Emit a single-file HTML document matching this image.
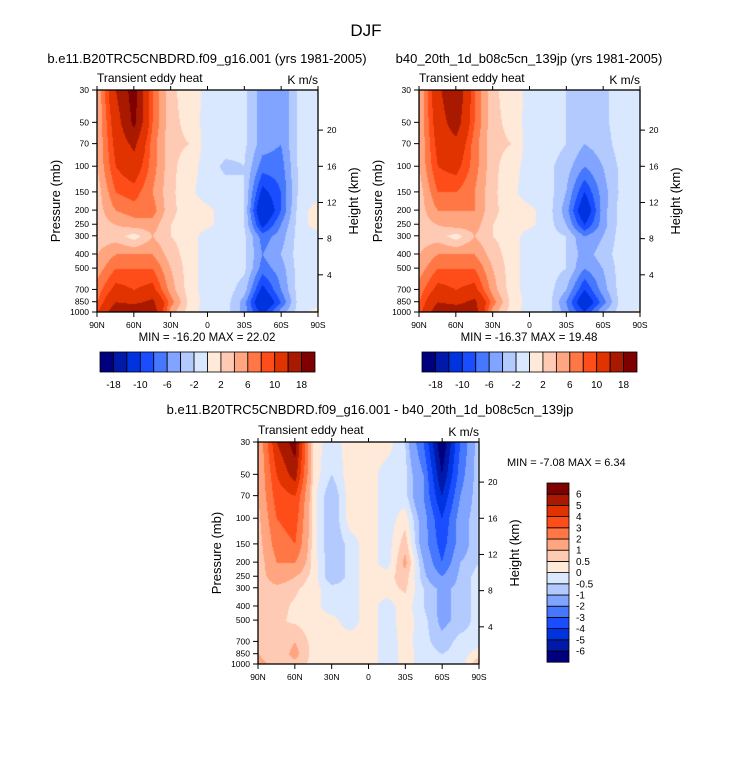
<!DOCTYPE html>
<html><head><meta charset="utf-8">
<style>
body{margin:0;background:#fff;}
#root{position:relative;width:733px;height:758px;font-family:"Liberation Sans",sans-serif;overflow:hidden;}
canvas{position:absolute;}
svg{position:absolute;left:0;top:0;}
</style></head>
<body>
<div id="root">
<canvas id="c1" width="221" height="222" style="left:97px;top:90px"></canvas>
<canvas id="c2" width="221" height="222" style="left:419px;top:90px"></canvas>
<canvas id="c3" width="221" height="222" style="left:258px;top:442px"></canvas>
<svg id="svg" width="733" height="758"></svg>
</div>
<script>
const lats = ["90N","60N","30N","0","30S","60S","90S"];
const pressures = [30,50,70,100,150,200,250,300,400,500,700,850,1000];
const heights = [20,16,12,8,4];
const levelsTop = [-18,-14,-10,-8,-6,-4,-2,0,2,4,6,8,10,14,18];
const labelsTop = ["-18","-10","-6","-2","2","6","10","18"];
const levelsDiff = [-6,-5,-4,-3,-2,-1,-0.5,0,0.5,1,2,3,4,5,6];
const colors = ["#00007f","#0019a8","#0033e0","#1a4dff","#4577ff","#80a4ff","#b3caff","#d9e8ff","#ffe9d9","#ffcab3","#ffa580","#ff7745","#ff4d1a","#e03300","#a81900","#7f0000"];
// columns: 90N,75N,60N,45N,30N,15N,0,15S,30S,45S,60S,75S,90S
const dataA = [
[4,14,20,8,2.5,1,-0.5,-1,-1.5,-5,-6,-1.5,-1],
[4,12,19,8,2.5,1.5,-1,-1,-1.5,-5,-6,-1.5,-1],
[4,11,15,7,2.5,2,-1,-1,-1.5,-5,-6,-1.5,-1],
[4,10,12,7,2.5,1,-1,-2.5,-2,-7,-7,-1.5,-1],
[3,8,9,6,2.5,0.5,-1,-1,-2,-11,-8,-1.5,-1],
[3,6,7,7,2.5,1,0.5,-1,-2,-14,-8,-1,1],
[3,4,5,5,2,1,0.5,-1,-2,-11,-6,-1,1],
[3,3,1,4,2,1,-1,-1,-1.5,-7,-5,-1,-1],
[4,6,6,6,3,1,-1,-1,-1.5,-6,-4,-1,-1],
[5,8,8,8,4,1,-1,-1,-1.5,-7,-5,-1,-1],
[7,11,10,11,5,1,-1,-1,-3,-11,-6,-1,-1],
[8,14,13,15,7,1.5,-1,-1,-5,-14,-8,-1,-1],
[10,17,19,17,5,1,-1,-1,-5,-11,-5,-1,1]];
const dataB = [
[4,13,18,8,2.5,1,-0.5,-1,-2,-4,-2.5,-1,-1],
[4,12,16,8,2.5,1.5,-1,-1,-2,-4,-2.5,-1,-1],
[4,11,13,7,2.5,2,-1,-1,-2,-4,-3,-1,-1],
[4,10,11,7,2.5,1,-1,-1.5,-3,-6,-4,-1.5,-1],
[3,8,8,6,2.5,0.5,-1,-1,-4,-10,-5,-1.5,-1],
[3,6,6,6,2.5,1,0.5,-1,-5,-13,-5,-1,-0.5],
[3,4,5,5,2,1,0.5,-1,-4,-10,-5,-1,-0.5],
[3,3,1,4,2,1,-1,-1,-2,-6,-4,-1,-1],
[4,6,6,6,3,1,-1,-1,-2,-5,-3,-1,-1],
[5,8,8,8,4,1,-1,-1,-2,-6,-4,-1,-1],
[7,11,10,11,5,1,-1,-1,-4,-10,-5,-1,-1],
[8,14,13,15,7,1.5,-1,-1,-6,-13,-7,-1,-1],
[9,17,17,16,5,1,-1,-1,-5,-10,-4,-1,0.5]];
const dataD = [
[1,5,6.5,0.3,-0.3,0.3,0.3,0.3,-0.5,-3,-7,-3,-0.5],
[1,4,5.5,0.3,-0.5,0.3,0.3,-0.3,-0.3,-2,-6,-2.5,-0.5],
[1,3.5,4,0.2,-1,0.3,0.3,-0.3,-0.3,-2,-5,-2,-0.5],
[0.8,3,3.5,0.2,-1,0.3,0.3,-0.3,0.3,-1.5,-4,-1.5,-0.5],
[0.6,2.5,3,0.2,-1,-0.3,0.3,-0.3,0.8,-1.5,-3.5,-1.5,-0.5],
[0.5,2,2,0.3,-1,-0.3,0.3,-0.3,1.2,-1,-3,-1,-0.5],
[0.6,1.5,1,0.3,-1,-0.3,0.3,0.3,0.8,-0.8,-2,-0.8,-0.3],
[0.6,0.8,0.6,0.2,-0.3,-0.3,0.3,0.3,0.6,-0.5,-1.2,-0.8,-0.3],
[0.6,0.7,0.4,0.2,-0.3,-0.3,0.3,-0.3,0.3,-0.5,-1.2,-0.8,-0.3],
[0.6,0.6,0.4,0.2,0.2,-0.3,0.3,-0.3,0.3,-0.3,-1.2,-0.8,-0.3],
[0.8,0.6,1,0.3,0.2,0.3,0.3,-0.3,0.2,-0.3,-0.8,-0.3,-0.3],
[1,0.6,1.2,0.3,0.2,0.3,0.3,-0.3,0.2,-0.2,-0.5,-0.3,0.3],
[1.2,0.8,0.8,0.3,0.2,0.3,0.3,-0.3,0.2,-0.2,-0.3,-0.3,1]];

const PW=221, PH=222;
function yOfP(p){return PH*Math.log(p/30)/Math.log(1000/30);}
function hex(c){return [parseInt(c.slice(1,3),16),parseInt(c.slice(3,5),16),parseInt(c.slice(5,7),16)];}
const rgb = colors.map(hex);
function fill(id,data,levels){
  const cv=document.getElementById(id),ctx=cv.getContext('2d');
  const img=ctx.createImageData(PW,PH);
  const rowY=pressures.map(yOfP);
  const nc=data[0].length;
  for(let y=0;y<PH;y++){
    let r=0; while(r<rowY.length-2 && y>rowY[r+1]) r++;
    const ty=Math.min(1,Math.max(0,(y-rowY[r])/(rowY[r+1]-rowY[r])));
    for(let x=0;x<PW;x++){
      const fx=x/(PW-1)*(nc-1); let c=Math.min(nc-2,Math.floor(fx)); const tx=fx-c;
      const v=(data[r][c]*(1-tx)+data[r][c+1]*tx)*(1-ty)+(data[r+1][c]*(1-tx)+data[r+1][c+1]*tx)*ty;
      let k=0; while(k<levels.length && v>=levels[k]) k++;
      const col=rgb[k], i=(y*PW+x)*4;
      img.data[i]=col[0];img.data[i+1]=col[1];img.data[i+2]=col[2];img.data[i+3]=255;
    }
  }
  ctx.putImageData(img,0,0);
}
fill('c1',dataA,levelsTop);fill('c2',dataB,levelsTop);fill('c3',dataD,levelsDiff);

const svg=document.getElementById('svg');const NS='http://www.w3.org/2000/svg';
function el(tag,attrs,txt){const e=document.createElementNS(NS,tag);for(const k in attrs)e.setAttribute(k,attrs[k]);if(txt!==undefined)e.textContent=txt;svg.appendChild(e);return e;}
function text(x,y,s,size,anchor,name,rot){
  const t=el('text',{x:x,y:y,'font-size':size,'text-anchor':anchor||'start','font-family':'Liberation Sans, sans-serif',fill:'#000'},s);
  if(rot)t.setAttribute('transform','rotate(-90 '+x+' '+y+')');
  
  
  return t;
}
function panel(x0,y0,title,pre,minmax){
  const f=el('rect',{x:x0,y:y0,width:PW,height:PH,fill:'none',stroke:'#000','stroke-width':1.3});
  
  
  if(title) text(x0+110,y0-27,title,13,'middle',pre+'-title');
  text(x0,y0-8,'Transient eddy heat',12,'start',pre+'-subtitle');
  text(x0+PW,y0-6,'K m/s',12,'end',pre+'-units');
  pressures.forEach(p=>{const y=y0+yOfP(p);
    const l=el('line',{x1:x0-5,y1:y,x2:x0,y2:y,stroke:'#000'});
    
    
    text(x0-8,y+3,String(p),8.5,'end','pressure-tick-label');});
  lats.forEach((s,i)=>{const x=x0+i*PW/6;
    const l=el('line',{x1:x,y1:y0+PH,x2:x,y2:y0+PH+5,stroke:'#000'});
    
    
    const l2=el('line',{x1:x,y1:y0,x2:x,y2:y0-4,stroke:'#000'});
    
    
    text(x,y0+PH+16,s,8.5,'middle','lat-tick-label');});
  heights.forEach(h=>{const p=1000*Math.exp(-h/7);const y=y0+yOfP(p)-1;
    const l=el('line',{x1:x0+PW,y1:y,x2:x0+PW+5,y2:y,stroke:'#000'});
    
    
    text(x0+PW+9,y+3,String(h),8.5,'start','height-tick-label');});
  text(x0-37,y0+PH/2,'Pressure (mb)',13,'middle',pre+'-y-axis-title',true);
  text(x0+PW+40,y0+PH/2,'Height (km)',13,'middle',pre+'-right-axis-title',true);
  if(minmax) text(x0+110,y0+PH+29,minmax,11.5,'middle',pre+'-minmax');
}
text(366,36,'DJF',17,'middle','figure-title');
panel(97,90,'b.e11.B20TRC5CNBDRD.f09_g16.001 (yrs 1981-2005)','left','MIN = -16.20  MAX =  22.02');
panel(419,90,'b40_20th_1d_b08c5cn_139jp (yrs 1981-2005)','right','MIN = -16.37  MAX =  19.48');
panel(258,442,'','diff','');
text(370,414,'b.e11.B20TRC5CNBDRD.f09_g16.001 - b40_20th_1d_b08c5cn_139jp',13,'middle','diff-title');
text(507,466,'MIN =  -7.08  MAX =   6.34',11,'start','diff-minmax');
function hbar(x0,y0,pre){
  const w=215/16;
  colors.forEach((c,i)=>{const r=el('rect',{x:x0+i*w,y:y0,width:w,height:20,fill:c,stroke:'#000','stroke-width':0.8});
    
    });
  labelsTop.forEach((s,i)=>text(x0+(2*i+1)*w,y0+36,s,10,'middle',pre+'-colorbar-label'));
}
hbar(100,352,'left');hbar(422,352,'right');
const vw=11.2;
colors.forEach((c,i)=>{const r=el('rect',{x:547,y:483+(15-i)*vw,width:22,height:vw,fill:c,stroke:'#000','stroke-width':0.8});
  
  });
levelsDiff.forEach((v,i)=>text(576,483+(15-i)*vw+3.5,String(v),10,'start','diff-colorbar-label'));
</script>
</body></html>
